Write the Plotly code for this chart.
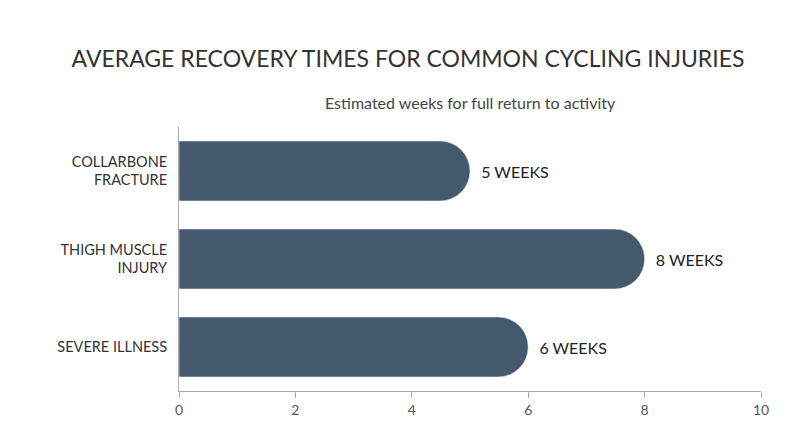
import plotly.graph_objects as go

injuries = ["COLLARBONE<br>FRACTURE", "THIGH MUSCLE<br>INJURY", "SEVERE ILLNESS"]
weeks = [5, 8, 6]
labels = [f"  {w} WEEKS" for w in weeks]

fig = go.Figure(go.Bar(
    x=weeks, y=injuries, orientation='h',
    marker=dict(color='#44596b', cornerradius=30),
    width=0.68,
    text=labels, textposition='outside', cliponaxis=False,
    textfont=dict(size=16, color='#222222', family='Lato'),
))

fig.update_layout(
    width=800, height=447,
    margin=dict(l=171, r=47, t=119, b=64, autoexpand=False),
    paper_bgcolor='white', plot_bgcolor='white',
    font=dict(family='Lato', color='#333333'),
    showlegend=False,
    title=dict(
        text="AVERAGE RECOVERY TIMES FOR COMMON CYCLING INJURIES",
        x=0.5, xanchor='center', y=0.885, yanchor='middle',
        font=dict(size=23, color='#333333'),
    ),
    annotations=[dict(text="Estimated weeks for full return to activity",
                      x=0.5, y=83, xref='paper', yref='paper', showarrow=False,
                      font=dict(size=16, color='#444444'))],
    xaxis=dict(range=[0, 10], dtick=2, showgrid=False, zeroline=False,
               showline=True, linecolor='#aaaaaa', ticks='outside', ticklen=6,
               tickcolor='#aaaaaa', tickfont=dict(size=14, color='#555555'),
               automargin=False),
    yaxis=dict(autorange='reversed', showline=True, linecolor='#aaaaaa',
               showgrid=False, ticks='', ticklabelstandoff=8, automargin=False,
               tickfont=dict(size=14.5, color='#333333')),
)
# subtitle position in paper coords: pixel y=83 from top
fig.layout.annotations[0].y = 1 + (119 - 83) / (447 - 119 - 64)

fig.write_html("out.html")
